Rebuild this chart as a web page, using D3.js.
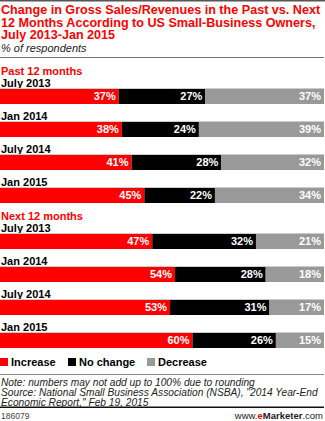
<!DOCTYPE html>
<html>
<head>
<meta charset="utf-8">
<script src="https://cdn.jsdelivr.net/npm/d3@7"></script>
<style>
  body { margin: 0; background: #fff; }
  svg { display: block; font-family: "Liberation Sans", Arial, sans-serif; }
</style>
</head>
<body>
<script>
// chart values
var groups = ["Past 12 months", "Next 12 months"];
var periods = ["July 2013", "Jan 2014", "July 2014", "Jan 2015"];
var seriesNames = ["Increase", "No change", "Decrease"];
var increase = [37, 38, 41, 45, 47, 54, 53, 60];
var noChange = [27, 24, 28, 22, 32, 28, 31, 26];
var decrease = [37, 39, 32, 34, 21, 18, 17, 15];
var colors = ["#ff0000", "#000000", "#999999"];

var width = 325, height = 421;

var svg = d3.select("body").append("svg")
  .attr("width", width)
  .attr("height", height);

// header
svg.append("rect").attr("x", 0).attr("y", 0).attr("width", width).attr("height", 1.5).attr("fill", "#555");

var titleLines = ["Change in Gross Sales/Revenues in the Past vs. Next",
  "12 Months According to US Small-Business Owners,",
  "July 2013-Jan 2015"];
svg.selectAll(".title")
  .data(titleLines)
  .enter().append("text")
  .attr("class", "title")
  .attr("x", 1)
  .attr("y", function(d, i) { return 14 + i * 12.5; })
  .attr("fill", "#ff0000")
  .attr("font-weight", "bold")
  .attr("font-size", "12.6px")
  .text(function(d) { return d; });

svg.append("text")
  .attr("x", 1).attr("y", 52)
  .attr("font-style", "italic")
  .attr("font-size", "11px")
  .attr("fill", "#222")
  .text("% of respondents");

svg.append("rect").attr("x", 0).attr("y", 57).attr("width", width - 1).attr("height", 1).attr("fill", "#777");

// rows
var rows = [];
increase.forEach(function(v, i) {
  rows.push({
    group: Math.floor(i / periods.length),
    period: periods[i % periods.length],
    "Increase": increase[i],
    "No change": noChange[i],
    "Decrease": decrease[i]
  });
});

var stack = d3.stack()
  .keys(seriesNames)
  .offset(d3.stackOffsetExpand);
var series = stack(rows);

var x = d3.scaleLinear().domain([0, 1]).range([0, 324]);

// y positions for each group (row index -> bar top)
var yGroup = [
  d3.scaleLinear().domain([0, 3]).range([89, 188]),
  d3.scaleLinear().domain([0, 3]).range([234, 333])
];
var barY = function(i) { var g = Math.floor(i / 4); return yGroup[g](i % 4); };
var bh = 15;

// group headings
svg.selectAll(".group")
  .data(groups)
  .enter().append("text")
  .attr("x", 1)
  .attr("y", function(d, g) { return barY(g * 4) - 14.5; })
  .attr("fill", "#ff0000")
  .attr("font-weight", "bold")
  .attr("font-size", "11px")
  .text(function(d) { return d; });

// period labels
svg.selectAll(".period")
  .data(rows)
  .enter().append("text")
  .attr("x", 1)
  .attr("y", function(d, i) { return barY(i) - 2.5; })
  .attr("font-weight", "bold")
  .attr("font-size", "11px")
  .attr("fill", "#000")
  .text(function(d) { return d.period; });

// thin light line on top of each bar
svg.selectAll(".topline")
  .data(rows)
  .enter().append("rect")
  .attr("x", 0)
  .attr("y", function(d, i) { return barY(i) - 1; })
  .attr("width", 324)
  .attr("height", 1)
  .attr("fill", "#ccc");

var layers = svg.selectAll(".layer")
  .data(series)
  .enter().append("g")
  .attr("fill", function(d, i) { return colors[i]; });

layers.selectAll("rect")
  .data(function(d) { return d; })
  .enter().append("rect")
  .attr("x", function(d) { return x(d[0]); })
  .attr("y", function(d, i) { return barY(i); })
  .attr("width", function(d) { return x(d[1]) - x(d[0]); })
  .attr("height", bh);

layers.selectAll("text")
  .data(function(d) { var k = d.key; return d.map(function(p) { return { p: p, v: p.data[k] }; }); })
  .enter().append("text")
  .attr("x", function(d) { return x(d.p[1]) - 3; })
  .attr("y", function(d, i) { return barY(i) + 11; })
  .attr("text-anchor", "end")
  .attr("fill", "#fff")
  .attr("font-weight", "bold")
  .attr("font-size", "11px")
  .text(function(d) { return d.v + "%"; });

// legend
var legendX = [0, 68, 147];
var legend = svg.selectAll(".legend")
  .data(seriesNames)
  .enter().append("g")
  .attr("transform", function(d, i) { return "translate(" + legendX[i] + ",358)"; });
legend.append("rect")
  .attr("width", 8).attr("height", 8)
  .attr("fill", function(d, i) { return colors[i]; });
legend.append("text")
  .attr("x", 11).attr("y", 8)
  .attr("font-weight", "bold")
  .attr("font-size", "11px")
  .attr("fill", "#000")
  .text(function(d) { return d; });

svg.append("rect").attr("x", 0).attr("y", 374).attr("width", width - 1).attr("height", 1).attr("fill", "#888");

// notes
var notes = ["Note: numbers may not add up to 100% due to rounding",
  "Source: National Small Business Association (NSBA), \"2014 Year-End",
  "Economic Report,\" Feb 19, 2015"];
svg.selectAll(".note")
  .data(notes)
  .enter().append("text")
  .attr("x", 1)
  .attr("y", function(d, i) { return 385.5 + i * 10; })
  .attr("font-style", "italic")
  .attr("font-size", "10.2px")
  .attr("fill", "#222")
  .text(function(d) { return d; });

svg.append("rect").attr("x", 0).attr("y", 406.5).attr("width", width - 1).attr("height", 1.5).attr("fill", "#111");

svg.append("text")
  .attr("x", 1).attr("y", 419)
  .attr("font-size", "8.5px")
  .attr("fill", "#444")
  .text("186079");

var site = svg.append("text")
  .attr("x", 323).attr("y", 419)
  .attr("text-anchor", "end")
  .attr("font-size", "9.5px")
  .attr("fill", "#222");
site.append("tspan").text("www.");
site.append("tspan").attr("fill", "#ff0000").attr("font-weight", "bold").text("e");
site.append("tspan").attr("font-weight", "bold").text("Marketer");
site.append("tspan").text(".com");
</script>
</body>
</html>
